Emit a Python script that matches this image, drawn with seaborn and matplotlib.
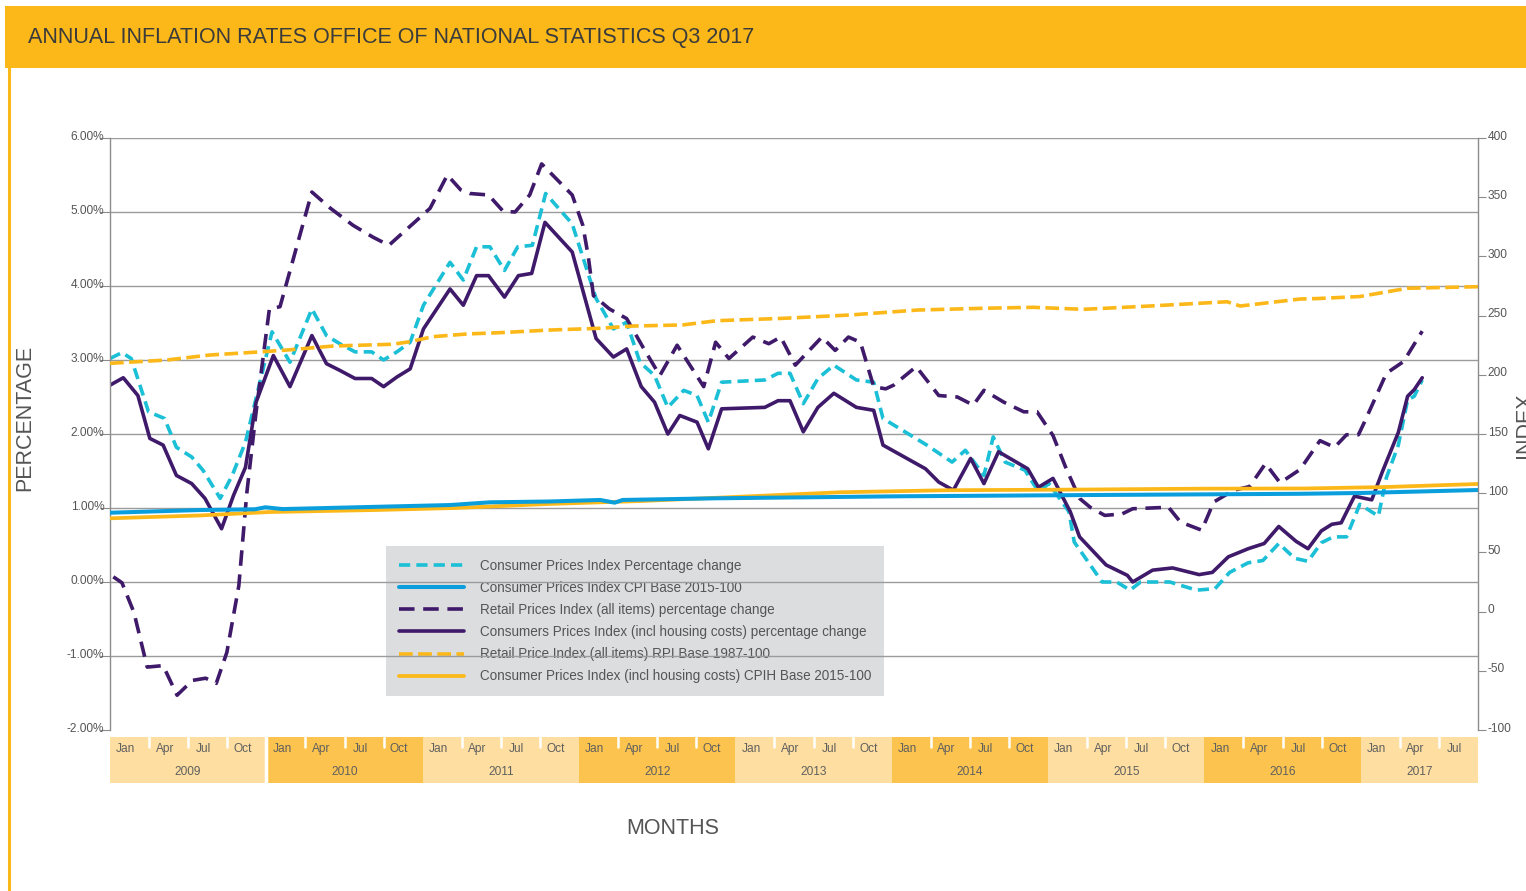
import numpy as np
import matplotlib
matplotlib.use("Agg")
import matplotlib.pyplot as plt
import matplotlib.transforms as mtransforms
from matplotlib.patches import Rectangle
from matplotlib.lines import Line2D
import seaborn as sns

# values, x = months since Jan 2009
cpi_pct_m = [0, 0.9, 1.6, 2.9, 4.1, 5.0, 6.15, 7.0, 8.3, 9.2, 10.2, 12.2, 13.55, 15.2, 16.3, 17.3, 18.45, 19.7, 20.6, 21.6,
             22.6, 23.6, 25.6, 26.6, 27.6, 28.6, 29.7, 30.7, 31.8, 32.8, 34.8, 36.6, 37.9, 38.9, 39.9, 41.0, 42.0, 43.2, 44.2, 45.05,
             46.05, 49.3, 50.3, 51.2, 52.2, 53.3, 54.5, 56.2, 57.5, 58.2, 61.5, 63.4, 64.4, 65.8, 66.5, 67.4, 68.9, 69.9, 70.7, 72.2,
             72.6, 74.7, 75.8, 76.8, 77.6, 79.8, 81.8, 83.2, 84.3, 85.7, 86.8, 88.0, 89.2, 90.2, 91.2, 92.1, 93.1, 94.1, 95.5, 96.1,
             97.0, 97.7, 98.2, 98.8]
cpi_pct = [3.02, 3.10, 3.02, 2.30, 2.21, 1.82, 1.69, 1.51, 1.13, 1.44, 1.89, 3.38, 2.97, 3.69, 3.33, 3.22, 3.11, 3.11, 3.00, 3.11,
           3.24, 3.74, 4.32, 4.08, 4.53, 4.53, 4.21, 4.53, 4.55, 5.25, 4.84, 3.83, 3.42, 3.51, 2.97, 2.79, 2.36, 2.59, 2.52, 2.16,
           2.70, 2.73, 2.82, 2.82, 2.41, 2.75, 2.93, 2.73, 2.70, 2.21, 1.85, 1.62, 1.78, 1.44, 1.96, 1.62, 1.51, 1.22, 1.33, 0.95,
           0.54, 0.00, 0.00, -0.11, 0.00, 0.00, -0.11, -0.09, 0.13, 0.26, 0.29, 0.52, 0.32, 0.28, 0.53, 0.61, 0.61, 1.05, 0.89, 1.41,
           1.85, 2.46, 2.51, 2.73]

cpih_pct_m = [0, 1, 2.1, 3, 4, 5, 6.15, 7.15, 8.4, 9.3, 10.2, 11, 12.3, 13.55, 15.2, 16.3, 17.3, 18.45, 19.7, 20.6,
              21.6, 22.6, 23.6, 25.6, 26.6, 27.6, 28.5, 29.7, 30.75, 31.75, 32.75, 34.8, 36.6, 37.9, 38.9, 40.0, 41.0, 42.0, 42.9, 44.2,
              45.05, 46.05, 49.3, 50.3, 51.2, 52.2, 53.3, 54.5, 56.2, 57.5, 58.2, 61.4, 62.4, 63.5, 64.8, 65.8, 66.9, 69.1, 69.9, 71.0,
              72.3, 73.0, 75.0, 76.6, 77.0, 78.5, 80.0, 82.0, 83.0, 84.2, 85.7, 86.9, 88.0, 89.3, 90.2, 91.2, 92.0, 92.7, 93.7, 95.0,
              95.8, 97.0, 97.7, 98.2, 98.8]
cpih_pct = [2.66, 2.76, 2.52, 1.94, 1.85, 1.44, 1.33, 1.13, 0.72, 1.17, 1.55, 2.43, 3.06, 2.64, 3.33, 2.95, 2.86, 2.75, 2.75, 2.64,
            2.77, 2.88, 3.42, 3.96, 3.74, 4.14, 4.14, 3.85, 4.14, 4.17, 4.86, 4.46, 3.29, 3.04, 3.15, 2.64, 2.43, 2.00, 2.25, 2.16,
            1.80, 2.34, 2.36, 2.45, 2.45, 2.03, 2.36, 2.55, 2.36, 2.32, 1.85, 1.53, 1.35, 1.24, 1.67, 1.33, 1.76, 1.53, 1.28, 1.40,
            0.95, 0.61, 0.23, 0.09, 0.00, 0.16, 0.19, 0.10, 0.13, 0.34, 0.45, 0.52, 0.75, 0.55, 0.45, 0.69, 0.78, 0.80, 1.16, 1.11,
            1.49, 2.02, 2.51, 2.60, 2.76]

rpi_pct_m = [0.25, 0.9, 1.8, 2.8, 4.0, 5.05, 6.2, 7.2, 8.0, 8.8, 9.7, 10.3, 11.0, 12.0, 12.8, 15.2, 16.6, 18.3, 19.8, 21.0,
             21.8, 22.8, 24.1, 25.4, 26.4, 27.1, 28.5, 29.6, 30.5, 31.6, 32.5, 34.8, 35.6, 36.0, 36.4, 37.6, 38.9, 40.2, 41.4, 42.7,
             44.7, 45.6, 46.6, 48.4, 49.6, 50.5, 51.6, 53.6, 54.6, 55.6, 56.5, 57.5, 58.4, 59.0, 60.7, 62.4, 63.8, 65.0, 65.8, 67.3,
             68.8, 69.8, 71.0, 72.0, 73.0, 73.8, 74.9, 76.2, 77.0, 79.7, 80.6, 82.2, 83.1, 84.6, 85.8, 87.0, 88.1, 89.6, 91.1, 92.2,
             93.1, 94.0, 94.5, 96.1, 97.4, 98.8]
rpi_pct = [0.07, -0.01, -0.41, -1.15, -1.13, -1.53, -1.33, -1.30, -1.37, -0.95, -0.05, 1.2, 2.3, 3.69, 3.72, 5.27, 5.05, 4.82, 4.66, 4.55,
           4.68, 4.84, 5.05, 5.50, 5.30, 5.25, 5.23, 5.01, 5.00, 5.23, 5.65, 5.23, 4.82, 4.41, 3.87, 3.69, 3.56, 3.15, 2.79, 3.20,
           2.64, 3.24, 3.02, 3.31, 3.22, 3.31, 2.93, 3.31, 3.13, 3.31, 3.24, 2.64, 2.61, 2.66, 2.91, 2.52, 2.50, 2.39, 2.59, 2.43,
           2.30, 2.30, 1.98, 1.53, 1.13, 1.01, 0.90, 0.92, 0.99, 1.01, 0.81, 0.70, 1.08, 1.24, 1.29, 1.60, 1.34, 1.52, 1.91, 1.82,
           1.99, 1.99, 2.18, 2.82, 2.98, 3.39]

cpi_idx_m = [0, 6.8, 10.9, 11.7, 13.0, 25.6, 28.6, 33.1, 36.9, 38.0, 38.6, 45.7, 59.5, 74.5, 89.6, 94.3, 103]
cpi_idx = [83.5, 85.8, 86.4, 88.1, 86.6, 90.0, 92.3, 93.0, 94.3, 92.0, 94.3, 95.7, 97.4, 98.5, 99.5, 100.2, 102.7]

cpih_idx_m = [0, 6.8, 12, 20, 26, 33, 40, 47, 55, 63, 72, 82, 90, 96, 103]
cpih_idx = [78.8, 81.2, 84.1, 85.8, 87.5, 90.9, 93.4, 96.8, 100.8, 102.5, 103.0, 103.8, 104.0, 105.2, 107.8]

rpi_idx_m = [0, 4.3, 7.5, 11.5, 13.3, 16.8, 21.3, 22.6, 24.3, 26.9, 29.4, 33.1, 36.9, 39.4, 43.1, 45.7, 50.7, 55.7, 60.8, 65.8,
             69.5, 73.3, 78.3, 84.1, 85.1, 89.6, 90.9, 94.1, 97.7, 103]
rpi_idx = [209.7, 212.5, 216.7, 219.5, 220.9, 224.3, 225.8, 228.0, 232.2, 234.5, 235.6, 237.8, 239.3, 241.2, 242.1, 245.7, 247.7, 250.5, 254.7, 256.2,
           257.0, 255.3, 258.1, 261.7, 258.1, 264.0, 264.4, 266.1, 273.1, 274.4]

years = ["2009", "2010", "2011", "2012", "2013", "2014", "2015", "2016", "2017"]
quarters = ["Jan", "Apr", "Jul", "Oct"]
band_months = 105

labels = ["Consumer Prices Index Percentage change",
          "Consumer Prices Index CPI Base 2015-100",
          "Retail Prices Index (all items) percentage change",
          "Consumers Prices Index (incl housing costs) percentage change",
          "Retail Price Index (all items) RPI Base 1987-100",
          "Consumer Prices Index (incl housing costs) CPIH Base 2015-100"]

CYAN = "#1bbfd6"
BLUE = "#0a9fdc"
PURPLE = "#3f1a6a"
ORANGE = "#fbb818"
GREY_TXT = "#555555"

sns.set_style("white")
plt.rcParams["font.family"] = ["Liberation Sans", "DejaVu Sans"]
plt.rcParams["axes.unicode_minus"] = False

W, H = 1526, 891
fig = plt.figure(figsize=(W / 100, H / 100), dpi=100)


def fx(px):
    return px / W


def fy(py):
    return 1 - py / H


# header band + left rule
fig.patches.append(Rectangle((fx(5), fy(68)), 1 - fx(5), 62 / H, transform=fig.transFigure,
                             color=ORANGE, lw=0, zorder=0))
fig.lines.append(Line2D([fx(9), fx(9)], [fy(68), 0], transform=fig.transFigure, color=ORANGE, lw=2.2))
fig.text(fx(28), fy(37), "ANNUAL INFLATION RATES OFFICE OF NATIONAL STATISTICS Q3 2017",
         ha="left", va="center", fontsize=15.5, color="#3b3b3b")

ax = fig.add_axes([fx(110), fy(730), (1478 - 110) / W, (730 - 138) / H])
ax2 = ax.twinx()

lw = 2.6
sns.lineplot(x=cpi_pct_m, y=cpi_pct, ax=ax, color=CYAN, lw=lw, linestyle=(0, (3.1, 1.7)),
             label=labels[0], legend=False, sort=False)
sns.lineplot(x=rpi_pct_m, y=rpi_pct, ax=ax, color=PURPLE, lw=lw, linestyle=(0, (4.3, 2.4)),
             label=labels[2], legend=False, sort=False)
sns.lineplot(x=cpih_pct_m, y=cpih_pct, ax=ax, color=PURPLE, lw=lw,
             label=labels[3], legend=False, sort=False)

sns.lineplot(x=rpi_idx_m, y=rpi_idx, ax=ax2, color=ORANGE, lw=lw, linestyle=(0, (3.8, 1.5)),
             label=labels[4], legend=False, sort=False)
sns.lineplot(x=cpih_idx_m, y=cpih_idx, ax=ax2, color=ORANGE, lw=2.7,
             label=labels[5], legend=False, sort=False)
sns.lineplot(x=cpi_idx_m, y=cpi_idx, ax=ax2, color=BLUE, lw=2.9,
             label=labels[1], legend=False, sort=False)

ax.set_xlim(0, 103)
ax.set_ylim(-2, 6)
ax2.set_ylim(-100, 400)
ax.set_xticks([])
ax2.set_xticks([])
ax.set_xlabel("")
ax2.set_xlabel("")
ax.set_ylabel("")
ax2.set_ylabel("")

yt = np.arange(-2, 7, 1)
ax.set_yticks(yt)
ax.set_yticklabels([f"{v:.2f}%" for v in yt])
ax2.set_yticks(np.arange(-100, 401, 50))

ax.tick_params(axis="y", length=7, width=0.8, color="#8c8c8c", labelsize=8.6, labelcolor=GREY_TXT, pad=-3)
ax2.tick_params(axis="y", length=6, width=0.8, color="#8c8c8c", labelsize=8.6, labelcolor=GREY_TXT, pad=1)
lift = mtransforms.ScaledTranslation(0, 0.03, fig.dpi_scale_trans)
for t in ax.get_yticklabels() + ax2.get_yticklabels():
    t.set_transform(t.get_transform() + lift)

for a in (ax, ax2):
    for s in a.spines.values():
        s.set_visible(False)
ax.spines["left"].set_visible(True)
ax.spines["left"].set_color("#8c8c8c")
ax2.spines["right"].set_visible(True)
ax2.spines["right"].set_color("#8c8c8c")
for s in (ax.spines["left"], ax2.spines["right"]):
    s.set_linewidth(1.0)

for v in yt[1:]:
    ax.axhline(v, color="#9b9b9b", lw=1.0, zorder=0.5)

# legend sits under the grid lines, like the original
h1, l1 = ax.get_legend_handles_labels()
h2, l2 = ax2.get_legend_handles_labels()
hmap = dict(zip(l1 + l2, h1 + h2))
leg = ax.legend([hmap[l] for l in labels], labels, loc="upper left",
                bbox_to_anchor=(fx(386), fy(546)), bbox_transform=fig.transFigure,
                frameon=True, facecolor="#dcdddf", edgecolor="none", fancybox=False, framealpha=1,
                fontsize=9.75, handlelength=4.8, handletextpad=1.2, labelspacing=0.6,
                borderpad=0.95, borderaxespad=0)
leg.set_zorder(0.3)
for t in leg.get_texts():
    t.set_color(GREY_TXT)

fig.text(fx(25), fy(418), "PERCENTAGE", rotation=90, ha="center", va="center",
         fontsize=15.5, color=GREY_TXT)
fig.text(fx(1524), fy(425), "INDEX", rotation=90, ha="center", va="center",
         fontsize=15.5, color=GREY_TXT)
fig.text(fx(673), fy(828), "MONTHS", ha="center", va="center", fontsize=15.5, color=GREY_TXT)

# month / year band under the plot
axb = fig.add_axes([fx(110), fy(783), (1478 - 110) / W, 46 / H])
axb.set_xlim(0, band_months)
axb.set_ylim(0, 1)
axb.axis("off")
for i, yr in enumerate(years):
    start = 12 * i
    end = min(start + 12, band_months)
    axb.axvspan(start, end, color="#fedfa1" if i % 2 == 0 else "#fcc44e", lw=0)
    for q, name in enumerate(quarters):
        if start + 3 * q + 1.2 < band_months:
            axb.text(start + 3 * q + 1.2, 0.74, name, ha="center", va="center", fontsize=8.6, color="#5f5f5f")
        if q > 0 and start + 3 * q < band_months:
            axb.plot([start + 3 * q] * 2, [0.78, 1.0], color="white", lw=1.8)
    axb.text((start + end) / 2, 0.24, yr, ha="center", va="center", fontsize=8.6, color="#5f5f5f")
axb.axvline(12, color="white", lw=2.5)

fig.savefig("out.png", dpi=100)
